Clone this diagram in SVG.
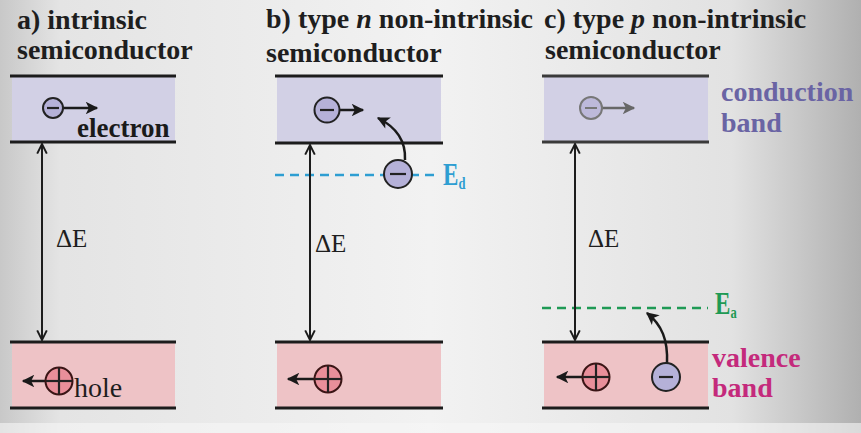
<svg xmlns="http://www.w3.org/2000/svg" width="861" height="433" viewBox="0 0 861 433">
<defs>
<linearGradient id="bg" x1="0" y1="0" x2="1" y2="0">
<stop offset="0" stop-color="#c8c8c8"/>
<stop offset="0.07" stop-color="#e4e4e4"/>
<stop offset="0.5" stop-color="#f2f2f2"/>
<stop offset="0.85" stop-color="#e2e2e2"/>
<stop offset="1" stop-color="#b0b0b0"/>
</linearGradient>
<marker id="ah" viewBox="0 0 10 10" refX="9" refY="5" markerWidth="6" markerHeight="5" orient="auto" markerUnits="strokeWidth">
<path d="M0,0 L10,5 L0,10 L2.5,5 Z" fill="#1a1a1a"/>
</marker>
<marker id="vh" viewBox="0 0 10 10" refX="9" refY="5" markerWidth="6" markerHeight="6" orient="auto-start-reverse" markerUnits="strokeWidth">
<path d="M1,1 L9,5 L1,9" fill="none" stroke="#1a1a1a" stroke-width="1.6"/>
</marker>
<marker id="ahg" viewBox="0 0 10 10" refX="9" refY="5" markerWidth="6" markerHeight="5" orient="auto" markerUnits="strokeWidth">
<path d="M0,0 L10,5 L0,10 L2.5,5 Z" fill="#676767"/>
</marker>
</defs>
<style>
.title{font-family:"Liberation Serif",serif;font-weight:bold;font-size:28px;fill:#1e1e1e}
.cb{fill:#d2d0e5}
.vb{fill:#eec3c6}
.edge{stroke:#1c1c1c;stroke-width:3}
.de{font-family:"Liberation Serif",serif;font-size:25px;fill:#1e1e1e}
.gap{stroke:#1c1c1c;stroke-width:2;fill:none}
.el{fill:#b5b1d8;stroke:#222;stroke-width:2}
.ho{fill:#e98f9a;stroke:#3a1515;stroke-width:2}
.sign{stroke:#222;stroke-width:2.2;fill:none}
.mv{stroke:#1a1a1a;stroke-width:2.5;fill:none}
.lab{font-family:"Liberation Serif",serif;font-weight:bold;font-size:28px}
</style>
<rect width="861" height="433" fill="url(#bg)"/>
<rect y="423" width="861" height="10" fill="#f6f6f6" opacity="0.6"/>

<g id="titles">
<text class="title" x="17" y="29">a) intrinsic</text>
<text class="title" x="17" y="59">semiconductor</text>
<text class="title" x="266" y="28">b) type <tspan font-style="italic">n</tspan> non-intrinsic</text>
<text class="title" x="266" y="62">semiconductor</text>
<text class="title" x="544" y="28">c) type <tspan font-style="italic">p</tspan> non-intrinsic</text>
<text class="title" x="545" y="59" font-size="24.5">semiconductor</text>
</g>

<g id="panel-a-conduction">
<rect class="cb" x="12" y="77" width="163" height="65"/>
<line class="edge" x1="10" y1="76" x2="176" y2="76"/>
<line class="edge" x1="10" y1="142" x2="176" y2="142"/>
</g>
<g id="panel-a-valence">
<rect class="vb" x="12" y="343" width="163" height="65"/>
<line class="edge" x1="10" y1="342" x2="176" y2="342"/>
<line class="edge" x1="10" y1="408" x2="176" y2="408"/>
</g>
<g id="panel-b-conduction">
<rect class="cb" x="277" y="77" width="164" height="65"/>
<line class="edge" x1="275" y1="76" x2="443" y2="76"/>
<line class="edge" x1="275" y1="143" x2="443" y2="143"/>
</g>
<g id="panel-b-valence">
<rect class="vb" x="277" y="343" width="164" height="65"/>
<line class="edge" x1="275" y1="342" x2="443" y2="342"/>
<line class="edge" x1="275" y1="408" x2="443" y2="408"/>
</g>
<g id="panel-c-conduction">
<rect class="cb" x="544" y="77" width="164" height="65"/>
<line x1="542" y1="76" x2="709" y2="76" stroke="#3a3a3a" stroke-width="3"/>
<line x1="542" y1="142" x2="709" y2="142" stroke="#3a3a3a" stroke-width="3"/>
</g>
<g id="panel-c-valence">
<rect class="vb" x="544" y="343" width="164" height="65"/>
<line class="edge" x1="542" y1="342" x2="709" y2="342"/>
<line class="edge" x1="542" y1="408" x2="709" y2="408"/>
</g>

<g id="levels">
<line x1="275" y1="175" x2="436" y2="175" stroke="#2e9ed2" stroke-width="2.5" stroke-dasharray="9,6"/>
<text transform="translate(443,185) scale(1.05,1.4)" font-family="Liberation Serif,serif" font-weight="bold" font-size="22" fill="#2e9ed2">E<tspan font-size="12" dy="3">d</tspan></text>
<line x1="542" y1="308" x2="708" y2="308" stroke="#1f9a55" stroke-width="2.5" stroke-dasharray="9,6"/>
<text transform="translate(715,314) scale(1.05,1.4)" font-family="Liberation Serif,serif" font-weight="bold" font-size="22" fill="#1f9a55">E<tspan font-size="12" dy="3">a</tspan></text>
</g>

<g id="connectors">
<line class="gap" x1="42" y1="144" x2="42" y2="340" marker-start="url(#vh)" marker-end="url(#vh)"/>
<line class="gap" x1="310" y1="145" x2="310" y2="340" marker-start="url(#vh)" marker-end="url(#vh)"/>
<line class="gap" x1="575" y1="144" x2="575" y2="340" marker-start="url(#vh)" marker-end="url(#vh)"/>
<line class="mv" x1="63" y1="108" x2="97" y2="108" marker-end="url(#ah)"/>
<line class="mv" x1="46" y1="381" x2="23" y2="381" marker-end="url(#ah)"/>
<line class="mv" x1="340" y1="110" x2="363" y2="110" marker-end="url(#ah)"/>
<path class="mv" d="M405,160 C406,140 396,127 378,118" marker-end="url(#ah)"/>
<line class="mv" x1="315" y1="379" x2="288" y2="379" marker-end="url(#ah)"/>
<line x1="602" y1="108" x2="634" y2="108" stroke="#676767" stroke-width="2.5" marker-end="url(#ahg)"/>
<line class="mv" x1="582" y1="377" x2="557" y2="377" marker-end="url(#ah)"/>
<path class="mv" d="M667,363 C668,340 662,325 647,313" marker-end="url(#ah)"/>
</g>

<g id="particles">
<g id="electron-a"><circle class="el" cx="53" cy="108" r="10"/><line class="sign" x1="47" y1="108" x2="59" y2="108"/></g>
<g id="hole-a"><circle class="ho" cx="59" cy="381" r="13.5"/><line class="sign" x1="46" y1="381" x2="72" y2="381"/><line class="sign" x1="59" y1="368" x2="59" y2="394"/></g>
<g id="electron-b"><circle class="el" cx="327" cy="110" r="12.5"/><line class="sign" x1="320" y1="110" x2="334" y2="110"/></g>
<g id="donor-b"><circle class="el" cx="398" cy="174" r="14"/><line class="sign" x1="390" y1="174" x2="406" y2="174"/></g>
<g id="hole-b"><circle class="ho" cx="328" cy="379" r="13.5"/><line class="sign" x1="315" y1="379" x2="341" y2="379"/><line class="sign" x1="328" y1="366" x2="328" y2="392"/></g>
<g id="electron-c"><circle cx="591" cy="108" r="11" fill="#bdb9da" stroke="#777" stroke-width="2"/><line x1="585" y1="108" x2="597" y2="108" stroke="#777" stroke-width="2"/></g>
<g id="hole-c"><circle class="ho" cx="596" cy="377" r="13.5"/><line class="sign" x1="583" y1="377" x2="609" y2="377"/><line class="sign" x1="596" y1="364" x2="596" y2="390"/></g>
<g id="acceptor-c"><circle class="el" cx="666" cy="377" r="14"/><line class="sign" x1="659" y1="377" x2="673" y2="377"/></g>
</g>

<g id="labels">
<text x="77" y="137" font-family="Liberation Serif,serif" font-weight="bold" font-size="27" fill="#1a1a1a">electron</text>
<text x="74" y="397" font-family="Liberation Serif,serif" font-size="28" fill="#1e1e1e">hole</text>
<text class="de" x="56" y="247">ΔE</text>
<text class="de" x="315" y="252">ΔE</text>
<text class="de" x="588" y="247">ΔE</text>
<text class="lab" x="721" y="101" fill="#6a64a4">conduction</text>
<text class="lab" x="721" y="132" fill="#6a64a4">band</text>
<text class="lab" x="712" y="367" fill="#c42a7c">valence</text>
<text class="lab" x="712" y="397" fill="#c42a7c">band</text>
</g>
</svg>
